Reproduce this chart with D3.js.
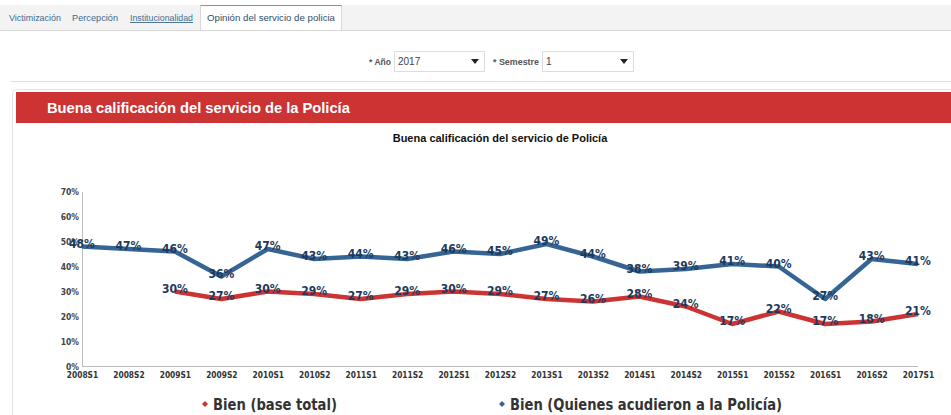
<!DOCTYPE html>
<html><head><meta charset="utf-8">
<script src="https://cdn.jsdelivr.net/npm/d3@7"></script>
<style>
html,body{margin:0;padding:0;background:#fff;overflow:hidden;}
svg{display:block;}
</style></head>
<body>
<svg id="c" width="951" height="415"></svg>
<script>
const categories = ["2008S1","2008S2","2009S1","2009S2","2010S1","2010S2","2011S1","2011S2","2012S1","2012S2","2013S1","2013S2","2014S1","2014S2","2015S1","2015S2","2016S1","2016S2","2017S1"];
const bienPolicia = [48,47,46,36,47,43,44,43,46,45,49,44,38,39,41,40,27,43,41];
const bienTotal = [null,null,30,27,30,29,27,29,30,29,27,26,28,24,17,22,17,18,21];
const yTicks = [0,10,20,30,40,50,60,70];
const tabs = ["Victimización","Percepción","Institucionalidad","Opinión del servicio de policia"];
const seriesNames = ["Bien (base total)","Bien (Quienes acudieron a la Policía)"];

const svg = d3.select("#c");
const ui = "Arial, 'Liberation Sans', sans-serif";
const vf = "'DejaVu Sans', Verdana, sans-serif";
const vc = "'DejaVu Sans Condensed', 'DejaVu Sans', sans-serif";

// tab bar
svg.append("rect").attr("x",0).attr("y",5).attr("width",951).attr("height",25).attr("fill","#f3f3f3");
svg.append("line").attr("x1",0).attr("x2",951).attr("y1",30.5).attr("y2",30.5).attr("stroke","#d8d8d8");
const tabX = [9,72,130,207];
const tabW = [52,46,63,128];
svg.append("rect").attr("x",200.5).attr("y",5.5).attr("width",141).attr("height",25).attr("fill","#fff").attr("stroke","#d8d8d8");
svg.append("line").attr("x1",200.5).attr("x2",341.5).attr("y1",5.5).attr("y2",5.5).attr("stroke","#6a9ac0");
tabs.forEach((t,i)=>{
  svg.append("text").attr("x",tabX[i]).attr("y",21).attr("font-family",ui).attr("font-size",9.2)
    .attr("textLength",tabW[i]).attr("lengthAdjust","spacingAndGlyphs")
    .attr("fill", i===3 ? "#2d4f6e" : "#3f6b8f").attr("text-decoration", i===2?"underline":null).text(t);
});

// selects
function sel(lbl, lx, lw, bx, bw, val){
  svg.append("text").attr("x",lx).attr("y",64.5).attr("font-family",ui).attr("font-size",9.5).attr("font-weight","bold").attr("fill","#555")
    .attr("textLength",lw).attr("lengthAdjust","spacingAndGlyphs").text(lbl);
  svg.append("rect").attr("x",bx+0.5).attr("y",51.5).attr("width",bw).attr("height",20).attr("fill","#fff").attr("stroke","#ddd");
  svg.append("text").attr("x",bx+4).attr("y",64.5).attr("font-family",ui).attr("font-size",10).attr("fill","#444").text(val);
  svg.append("path").attr("d",`M${bx+bw-13},59 l8,0 l-4,5 z`).attr("fill","#222");
}
sel("* Año",369,22,394,90,"2017");
sel("* Semestre",493,46,542,91,"1");
svg.append("line").attr("x1",10).attr("x2",951).attr("y1",81.5).attr("y2",81.5).attr("stroke","#e2e2e2");

// panel
svg.append("rect").attr("x",12.5).attr("y",89.5).attr("width",945).attr("height",340).attr("rx",4).attr("fill","#fff").attr("stroke","#e2e2e2");
svg.append("rect").attr("x",16).attr("y",92).attr("width",935).attr("height",31).attr("fill","#cc3333");
svg.append("text").attr("x",47).attr("y",113).attr("font-family",ui).attr("font-size",14.7).attr("font-weight","bold").attr("fill","#fff").text("Buena calificación del servicio de la Policía");
svg.append("text").attr("x",500).attr("y",142).attr("text-anchor","middle").attr("font-family",ui).attr("font-size",11).attr("font-weight","bold").attr("fill","#111").text("Buena calificación del servicio de Policía");

// scales
const x = d3.scalePoint().domain(categories).range([82,918]);
const y = d3.scaleLinear().domain([0,70]).range([366.5,191.5]);

const ga = svg.append("g").attr("transform","translate(82,0)")
  .call(d3.axisLeft(y).tickValues(yTicks).tickFormat(d=>d+"%").tickSize(0).tickPadding(3));
ga.select(".domain").attr("stroke","#bbb");
ga.selectAll("text").attr("font-family",vc).attr("font-size",8.5).attr("font-weight","bold").attr("fill","#444");

const gx = svg.append("g").attr("transform","translate(0,366.5)")
  .call(d3.axisBottom(x).tickSize(0).tickPadding(6));
gx.select(".domain").attr("stroke","#bbb").attr("d","M82,0H918");
gx.selectAll("text").attr("font-family",vc).attr("font-size",8.3).attr("font-weight","bold").attr("fill","#333");

const blue = "#366494", red = "#cc3333";
const line = d3.line().defined(d=>d.v!=null).x(d=>x(d.c)).y(d=>y(d.v));
const redData = categories.map((c,i)=>({c,v:bienTotal[i]}));
const blueData = categories.map((c,i)=>({c,v:bienPolicia[i]}));
svg.append("path").datum(redData).attr("d",line).attr("fill","none").attr("stroke",red).attr("stroke-width",4.5).attr("stroke-linejoin","round");
svg.append("path").datum(blueData).attr("d",line).attr("fill","none").attr("stroke",blue).attr("stroke-width",4.5).attr("stroke-linejoin","round");

function labels(data){
  svg.append("g").selectAll("text").data(data.filter(d=>d.v!=null)).join("text")
    .attr("x",d=>x(d.c)).attr("y",d=>y(d.v)+1).attr("text-anchor","middle")
    .attr("font-family",vc).attr("font-size",12).attr("font-weight","bold").attr("fill","#1d3a5c").text(d=>d.v+"%");
}
labels(redData);
labels(blueData);

// legend
const legend = [{name:seriesNames[0],c:red,x:205,w:124},{name:seriesNames[1],c:blue,x:502,w:272}];
legend.forEach(l=>{
  svg.append("path").attr("d",`M${l.x-3},404 l3,-3 l3,3 l-3,3 z`).attr("fill",l.c);
  svg.append("text").attr("x",l.x+8).attr("y",410).attr("font-family",vc).attr("font-size",16).attr("font-weight","bold").attr("fill","#333")
    .attr("textLength",l.w).attr("lengthAdjust","spacingAndGlyphs").text(l.name);
});
</script>
</body></html>
